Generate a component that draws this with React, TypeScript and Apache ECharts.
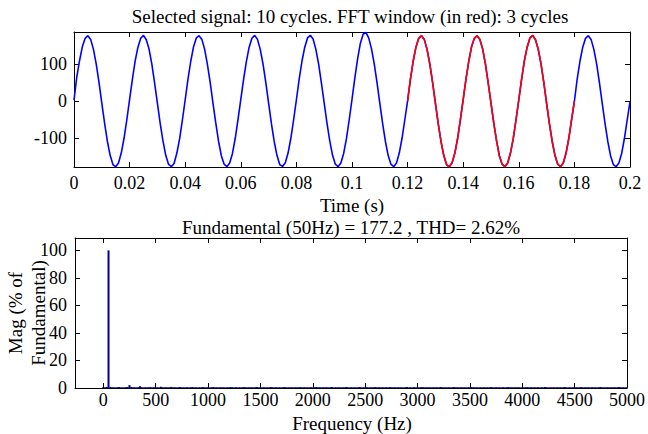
import React, { useEffect, useRef } from "react";
import * as echarts from "echarts";

// ---- Data ----
const sampleStep = 0.001; // s
const fftWindow = [0.12, 0.18]; // s, red part
const signal: number[] = [
  // 0.00 - 0.019
  3, 66, 110, 147, 170, 177, 167, 140, 100, 50, -5, -59, -108, -146, -171, -177, -167, -140, -100, -50,
  // 0.02
  5, 59, 109, 146, 170, 178, 166, 141, 100, 49, -5, -60, -107, -146, -170, -177, -168, -140, -101, -50,
  // 0.04
  4, 60, 108, 147, 171, 177, 167, 140, 99, 50, -6, -59, -108, -147, -170, -177, -167, -141, -100, -49,
  // 0.06
  5, 59, 107, 146, 170, 178, 167, 140, 100, 50, -5, -60, -108, -146, -171, -176, -166, -140, -100, -50,
  // 0.08
  4, 60, 108, 146, 171, 178, 168, 140, 100, 49, -5, -59, -107, -146, -170, -177, -167, -141, -101, -50,
  // 0.10
  5, 62, 114, 156, 181, 186, 171, 142, 101, 50, -5, -59, -108, -146, -170, -177, -167, -140, -100, -50,
  // 0.12 (red)
  1, 59, 108, 146, 170, 177, 167, 140, 100, 50, -5, -60, -108, -146, -171, -177, -166, -140, -100, -49,
  // 0.14 (red)
  5, 60, 108, 147, 170, 177, 167, 141, 100, 49, -5, -59, -107, -147, -170, -177, -167, -140, -101, -50,
  // 0.16 (red)
  4, 59, 109, 146, 171, 178, 166, 140, 100, 50, -6, -60, -108, -146, -170, -177, -167, -140, -100, -49,
  // 0.18
  0, 60, 108, 146, 170, 177, 167, 140, 101, 50, -5, -59, -108, -147, -171, -177, -167, -141, -100, -50,
  // 0.20
  -2,
];

const binWidthHz = 50 / 3; // FFT resolution with a 3-cycle window
const spectrum: number[] = [
  0.6, 0.5, 0.8, 100, 0.8, 0.5, 0.6, 0.5, 0.6, 0.7, 0.5, 0.6, 0.5, 0.6, 0.7, 2.1, 0.7, 0.5, 0.6, 0.5,
  0.6, 1.3, 0.6, 0.5, 0.6, 0.5, 0.6, 0.7, 0.5, 0.6, 0.5, 0.6, 0.5, 0.9, 0.6, 0.5, 0.6, 0.5, 0.6, 0.8,
  0.5, 0.6, 0.5, 0.6, 0.7, 0.5, 0.6, 0.5, 0.6, 0.5, 0.6, 0.7, 0.5, 0.6, 0.5, 0.6, 0.5, 0.7, 0.6, 0.5,
  0.6, 0.5, 0.6, 0.7, 0.5, 0.6, 0.5, 0.6, 0.5, 0.6, 0.5, 0.6, 0.5, 0.7, 0.6, 0.5, 0.6, 0.5, 0.6, 0.5,
  0.6, 0.7, 0.5, 0.6, 0.5, 0.6, 0.5, 0.6, 0.7, 0.5, 0.6, 0.5, 0.6, 0.5, 0.6, 0.5, 0.7, 0.6, 0.5, 0.6,
  0.5, 0.6, 0.5, 0.6, 0.7, 0.5, 0.6, 0.5, 0.6, 0.5, 0.6, 0.5, 0.6, 0.7, 0.5, 0.6, 0.5, 0.6, 0.5, 0.6,
  0.5, 0.6, 0.7, 0.5, 0.6, 0.5, 0.6, 0.5, 0.6, 0.5, 0.6, 0.7, 0.5, 0.6, 0.5, 0.6, 0.5, 0.6, 0.5, 0.7,
  0.6, 0.5, 0.6, 0.5, 0.6, 0.5, 0.6, 0.7, 0.5, 0.6, 0.5, 0.6, 0.5, 0.6, 0.5, 0.6, 0.7, 0.5, 0.6, 0.5,
  0.6, 0.5, 0.6, 0.5, 0.7, 0.6, 0.5, 0.6, 0.5, 0.6, 0.5, 0.6, 0.5, 0.6, 0.7, 0.5, 0.6, 0.5, 0.6, 0.5,
  0.6, 0.5, 0.6, 0.7, 0.5, 0.6, 0.5, 0.6, 0.5, 0.6, 0.5, 0.6, 0.5, 0.7, 0.6, 0.5, 0.6, 0.5, 0.6, 0.5,
  0.6, 0.7, 0.5, 0.6, 0.5, 0.6, 0.5, 0.6, 0.5, 0.6, 0.5, 0.7, 0.6, 0.5, 0.6, 0.5, 0.6, 0.5, 0.6, 0.5,
  0.6, 0.5, 0.7, 0.6, 0.5, 0.6, 0.5, 0.6, 0.5, 0.6, 0.5, 0.6, 0.7, 0.5, 0.6, 0.5, 0.6, 0.5, 0.6, 0.5,
  0.6, 0.5, 0.6, 0.7, 0.5, 0.6, 0.5, 0.6, 0.5, 0.6, 0.5, 0.6, 0.5, 0.7, 0.6, 0.5, 0.6, 0.5, 0.6, 0.5,
  0.6, 0.5, 0.6, 0.5, 0.7, 0.6, 0.5, 0.6, 0.5, 0.6, 0.5, 0.6, 0.5, 0.6, 0.7, 0.5, 0.6, 0.5, 0.6, 0.5,
  0.6, 0.5, 0.6, 0.5, 0.6, 0.7, 0.5, 0.6, 0.5, 0.6, 0.5, 0.6, 0.5, 0.6, 0.5, 0.7, 0.6, 0.5, 0.6, 0.5,
  0.6,
];

const timeTicks = [0, 0.02, 0.04, 0.06, 0.08, 0.1, 0.12, 0.14, 0.16, 0.18, 0.2];
const signalTicks = [-100, 0, 100];
const freqTicks = [0, 500, 1000, 1500, 2000, 2500, 3000, 3500, 4000, 4500, 5000];
const magTicks = [0, 20, 40, 60, 80, 100];

const titleTop = "Selected signal: 10 cycles. FFT window (in red): 3 cycles";
const titleBottom = "Fundamental (50Hz) = 177.2 , THD= 2.62%";
const xNameTop = "Time (s)";
const xNameBottom = "Frequency (Hz)";
const yNameBottom = ["Mag (% of", "Fundamental)"];

const FONT = "Liberation Serif";

export default function App() {
  const ref = useRef<HTMLDivElement>(null);
  useEffect(() => {
    if (!ref.current) return;
    const chart = echarts.init(ref.current, undefined, { renderer: "svg" });

    const points = signal.map((v, i) => [i * sampleStep, v]);
    const i0 = Math.round(fftWindow[0] / sampleStep);
    const i1 = Math.round(fftWindow[1] / sampleStep);
    const redPoints = points.slice(i0, i1 + 1);
    const bars = spectrum.map((v, i) => [i * binWidthHz, v]);

    const axisLine = { show: true, onZero: false, lineStyle: { color: "#000", width: 1 } };
    const tick = (vals: number[]) => ({
      show: true,
      inside: true,
      length: 5,
      lineStyle: { color: "#000", width: 1 },
      customValues: vals,
    });
    const labelStyle = { color: "#000", fontFamily: FONT, fontSize: 18 };

    const text = (t: string, x: number, y: number, size: number, rot = 0) => ({
      type: "text",
      x,
      y,
      rotation: rot,
      silent: true,
      style: {
        text: t,
        fill: "#000",
        fontFamily: FONT,
        fontSize: size,
        align: "center",
        verticalAlign: "middle",
      },
    });

    chart.setOption({
      animation: false,
      backgroundColor: "#fff",
      textStyle: { fontFamily: FONT },
      grid: [
        { left: 74, top: 32, width: 556, height: 135 },
        { left: 75, top: 238, width: 554, height: 150 },
      ],
      xAxis: [
        {
          gridIndex: 0,
          type: "value",
          position: "bottom",
          min: 0,
          max: 0.2,
          axisLine,
          axisTick: tick(timeTicks),
          axisLabel: {
            ...labelStyle,
            margin: 7,
            customValues: timeTicks,
            formatter: (v: number) => String(+v.toFixed(2)),
          },
          splitLine: { show: false },
        },
        {
          gridIndex: 0,
          type: "value",
          position: "top",
          min: 0,
          max: 0.2,
          axisLine,
          axisTick: tick(timeTicks),
          axisLabel: { show: false },
          splitLine: { show: false },
        },
        {
          gridIndex: 1,
          type: "value",
          position: "bottom",
          min: -270,
          max: 5000,
          axisLine,
          axisTick: tick(freqTicks),
          axisLabel: {
            ...labelStyle,
            margin: 3,
            customValues: freqTicks,
            formatter: (v: number) => String(v),
          },
          splitLine: { show: false },
        },
        {
          gridIndex: 1,
          type: "value",
          position: "top",
          min: -270,
          max: 5000,
          axisLine,
          axisTick: tick(freqTicks),
          axisLabel: { show: false },
          splitLine: { show: false },
        },
      ],
      yAxis: [
        {
          gridIndex: 0,
          type: "value",
          position: "left",
          min: -177.6,
          max: 187,
          axisLine,
          axisTick: tick(signalTicks),
          axisLabel: { ...labelStyle, margin: 7, customValues: signalTicks },
          splitLine: { show: false },
        },
        {
          gridIndex: 0,
          type: "value",
          position: "right",
          min: -177.6,
          max: 187,
          axisLine,
          axisTick: tick(signalTicks),
          axisLabel: { show: false },
          splitLine: { show: false },
        },
        {
          gridIndex: 1,
          type: "value",
          position: "left",
          min: 0,
          max: 109,
          axisLine,
          axisTick: tick(magTicks),
          axisLabel: { ...labelStyle, margin: 8, customValues: magTicks },
          splitLine: { show: false },
        },
        {
          gridIndex: 1,
          type: "value",
          position: "right",
          min: 0,
          max: 109,
          axisLine,
          axisTick: tick(magTicks),
          axisLabel: { show: false },
          splitLine: { show: false },
        },
      ],
      series: [
        {
          type: "line",
          xAxisIndex: 0,
          yAxisIndex: 0,
          data: points,
          showSymbol: false,
          lineStyle: { color: "#0000ff", width: 1.6 },
          z: 2,
        },
        {
          type: "line",
          xAxisIndex: 0,
          yAxisIndex: 0,
          data: redPoints,
          showSymbol: false,
          lineStyle: { color: "#ff0000", width: 1.6 },
          z: 3,
        },
        {
          type: "bar",
          xAxisIndex: 2,
          yAxisIndex: 2,
          data: bars,
          barWidth: 2,
          itemStyle: { color: "#000090" },
          z: 2,
        },
      ],
      graphic: [
        text(titleTop, 350, 16, 19),
        text(xNameTop, 352, 205, 19),
        text(titleBottom, 351, 227, 19),
        text(xNameBottom, 352, 423, 19),
        text(yNameBottom[0], 15, 313, 19, Math.PI / 2),
        text(yNameBottom[1], 38, 313, 19, Math.PI / 2),
      ],
    });
    return () => chart.dispose();
  }, []);
  return (
    <div
      ref={ref}
      style={{ position: "absolute", left: 0, top: 0, width: 648, height: 434 }}
    />
  );
}
